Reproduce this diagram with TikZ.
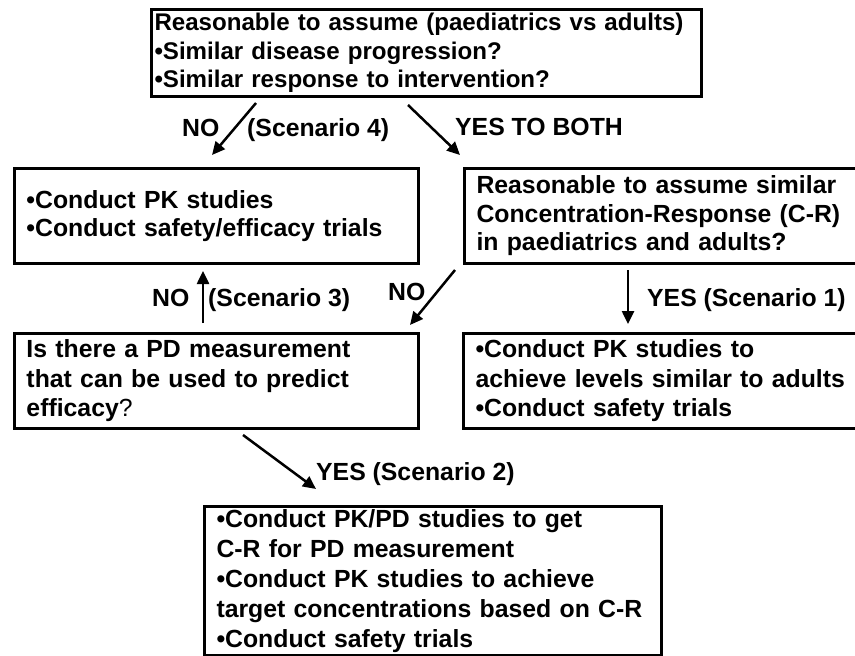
\documentclass[tikz,border=0pt]{standalone}
\usepackage{fontspec}
\setmainfont{Liberation Sans}
\usetikzlibrary{arrows.meta}
\begin{document}
\begin{tikzpicture}[x=1pt,y=-1pt,
  box/.style={draw,line width=3pt,anchor=north west,inner xsep=12pt,inner ysep=0pt,align=left,
    font=\bfseries\fontsize{24.8}{28.5}\selectfont},
  lbl/.style={font=\bfseries\fontsize{24.8}{28}\selectfont,inner sep=0pt,anchor=base west},
  arr/.style={line width=2.5pt,-{Triangle[length=13pt,width=12pt]}}]
\useasboundingbox (0,0) rectangle (855,656);

\node[box,inner xsep=3pt,text width=544pt,minimum height=87pt,font=\bfseries\fontsize{24.1}{28.5}\selectfont] (top) at (150,8)
  {Reasonable to assume (paediatrics vs adults)\\ •Similar disease progression?\\ •Similar response to intervention?};
\node[box,text width=380pt,minimum height=95pt] (pk) at (13,167)
  {•Conduct PK studies\\ •Conduct safety/efficacy trials};
\node[box,text width=376pt,minimum height=95pt] (cr) at (463,167)
  {Reasonable to assume similar\\ Concentration-Response (C-R)\\ in paediatrics and adults?};
\node[box,text width=380pt,minimum height=95pt,font=\bfseries\fontsize{24.8}{29.5}\selectfont] (pd) at (13,332)
  {Is there a PD measurement\\ that can be used to predict\\ efficacy\textmd{?}};
\node[box,text width=376pt,minimum height=95pt,font=\bfseries\fontsize{24.8}{29.5}\selectfont] (s1) at (462,332)
  {•Conduct PK studies to\\ achieve levels similar to adults\\ •Conduct safety trials};
\node[box,text width=433pt,minimum height=149pt,font=\bfseries\fontsize{24.8}{30}\selectfont] (s2) at (203,505)
  {•Conduct PK/PD studies to get\\ C-R for PD measurement\\ •Conduct PK studies to achieve\\ target concentrations based on C-R\\ •Conduct safety trials};

% arrow end points
\coordinate (a4s) at (256,103); \coordinate (a4e) at (212,155);
\coordinate (abs) at (408,105); \coordinate (abe) at (460,155);
\coordinate (a3s) at (203,323); \coordinate (a3e) at (203,271);
\coordinate (ans) at (455,270); \coordinate (ane) at (410,325);
\coordinate (a1s) at (628,270); \coordinate (a1e) at (628,324);
\coordinate (a2s) at (243,435); \coordinate (a2e) at (316,489);

\draw[arr] (a4s) -- (a4e);
\draw[arr] (abs) -- (abe);
\draw[arr] (a3s) -- (a3e);
\draw[arr] (ans) -- (ane);
\draw[arr] (a1s) -- (a1e);
\draw[arr] (a2s) -- (a2e);

% labels
\node[lbl] (l4a) at (182,136) {NO};
\node[lbl] (l4b) at (247,136) {(Scenario 4)};
\node[lbl] (lb) at (455,135) {YES TO BOTH};
\node[lbl] (l3a) at (152,306) {NO};
\node[lbl] (l3b) at (208,306) {(Scenario 3)};
\node[lbl] (ln) at (388,300) {NO};
\node[lbl] (l1) at (647,306) {YES (Scenario 1)};
\node[lbl] (l2) at (316,480) {YES (Scenario 2)};
\end{tikzpicture}
\end{document}
